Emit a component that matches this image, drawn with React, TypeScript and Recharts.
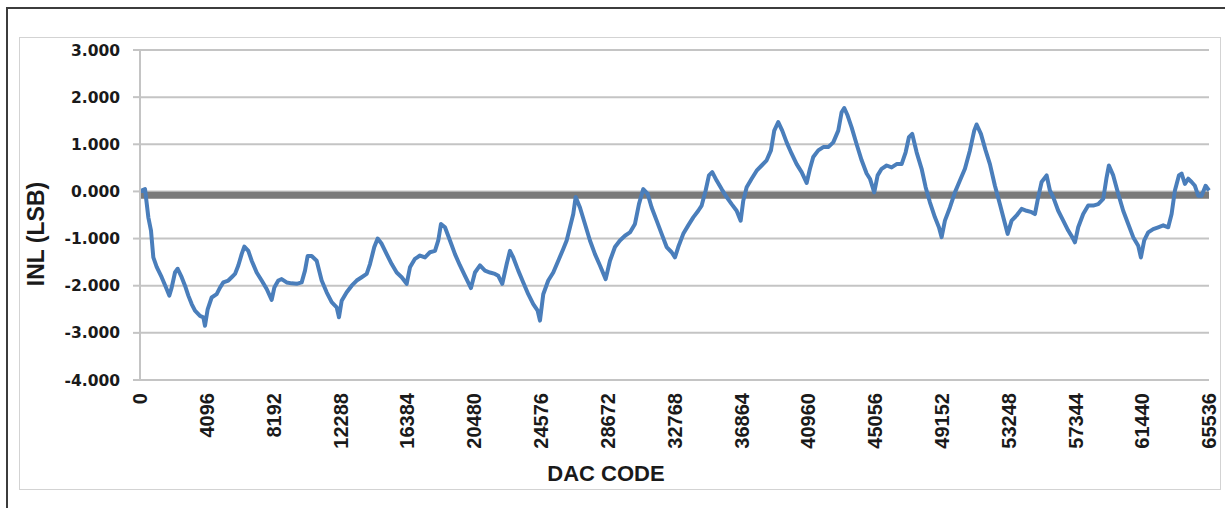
import React from "react";
import { LineChart, Line, XAxis, YAxis, CartesianGrid, ReferenceLine } from "recharts";

// DAC code positions
const codes = [
  0, 307, 511, 674, 817, 1021, 1328, 1634, 1796, 1941, 2146, 2308, 2554, 2759, 2963, 3168, 3372, 3678, 3883, 3985,
  4148, 4393, 4700, 4904, 5108, 5414, 5619, 5824, 6027, 6232, 6396, 6640, 6846, 7153, 7459, 7766, 8072, 8235, 8480, 8684,
  8990, 9298, 9604, 9911, 10115, 10278, 10523, 10830, 11137, 11444, 11751, 12058, 12199, 12364, 12671, 12978, 13284, 13591, 13897, 14099,
  14363, 14571, 14816, 15123, 15430, 15736, 16043, 16349, 16551, 16858, 17164, 17471, 17777, 18084, 18286, 18451, 18697, 19003, 19310, 19616,
  19923, 20290, 20536, 20842, 21149, 21455, 21762, 21964, 22210, 22480, 22681, 22883, 23190, 23496, 23803, 24109, 24379, 24520, 24722, 25029,
  25335, 25642, 25948, 26157, 26359, 26562, 26709, 26972, 27279, 27585, 27892, 28198, 28548, 28811, 29118, 29424, 29731, 30037, 30344, 30589,
  30852, 31122, 31367, 31674, 31980, 32287, 32594, 32796, 32998, 33305, 33611, 33918, 34224, 34432, 34677, 34880, 35082, 35352, 35658, 35965,
  36272, 36578, 36823, 36983, 37191, 37497, 37804, 38110, 38417, 38680, 38883, 39128, 39373, 39643, 39949, 40256, 40562, 40869, 41071, 41274,
  41581, 41888, 42194, 42501, 42807, 43014, 43174, 43382, 43627, 43934, 44240, 44547, 44749, 45014, 45221, 45466, 45773, 46079, 46386, 46692,
  46938, 47140, 47342, 47612, 47918, 48164, 48427, 48734, 48979, 49144, 49347, 49653, 49960, 50266, 50573, 50879, 51143, 51290, 51553, 51841,
  52105, 52412, 52718, 52982, 53190, 53435, 53742, 54048, 54355, 54661, 54864, 55066, 55274, 55581, 55783, 55985, 56292, 56599, 56905, 57151,
  57316, 57518, 57824, 58131, 58438, 58744, 59051, 59259, 59400, 59664, 59970, 60276, 60583, 60889, 61196, 61361, 61564, 61809, 62116, 62422,
  62729, 63035, 63243, 63446, 63691, 63856, 64059, 64261, 64469, 64672, 64874, 65082, 65327, 65536,
];

// INL in LSB at each code above
const inl = [
  0.0, 0.05, -0.55, -0.83, -1.4, -1.6, -1.82, -2.07, -2.21, -2.04, -1.72, -1.64, -1.82, -2.0, -2.21, -2.39, -2.53, -2.64, -2.67, -2.85,
  -2.5, -2.25, -2.18, -2.04, -1.93, -1.89, -1.82, -1.75, -1.57, -1.33, -1.17, -1.26, -1.47, -1.72, -1.89, -2.07, -2.3, -2.04, -1.89, -1.86,
  -1.93, -1.95, -1.96, -1.93, -1.68, -1.37, -1.37, -1.47, -1.89, -2.14, -2.35, -2.46, -2.67, -2.32, -2.14, -2.0, -1.89, -1.82, -1.75, -1.54,
  -1.18, -1.0, -1.11, -1.33, -1.54, -1.72, -1.82, -1.96, -1.61, -1.43, -1.36, -1.4, -1.29, -1.26, -1.04, -0.69, -0.76, -1.04, -1.33, -1.57,
  -1.79, -2.05, -1.72, -1.57, -1.68, -1.72, -1.75, -1.79, -1.96, -1.54, -1.26, -1.4, -1.68, -1.93, -2.18, -2.39, -2.53, -2.74, -2.18, -1.89,
  -1.72, -1.47, -1.22, -1.04, -0.76, -0.48, -0.12, -0.34, -0.69, -1.04, -1.33, -1.57, -1.86, -1.47, -1.18, -1.04, -0.94, -0.87, -0.69, -0.27,
  0.05, -0.05, -0.34, -0.62, -0.9, -1.18, -1.29, -1.4, -1.18, -0.9, -0.72, -0.55, -0.41, -0.3, 0.02, 0.34, 0.41, 0.23, 0.05, -0.12,
  -0.27, -0.41, -0.62, -0.2, 0.09, 0.27, 0.44, 0.55, 0.66, 0.87, 1.29, 1.47, 1.29, 1.04, 0.8, 0.58, 0.41, 0.18, 0.48, 0.73,
  0.87, 0.94, 0.94, 1.04, 1.29, 1.68, 1.77, 1.61, 1.36, 1.0, 0.66, 0.38, 0.27, -0.02, 0.34, 0.48, 0.55, 0.51, 0.58, 0.58,
  0.83, 1.15, 1.22, 0.83, 0.48, 0.09, -0.23, -0.55, -0.76, -0.97, -0.62, -0.34, -0.02, 0.23, 0.48, 0.87, 1.29, 1.42, 1.22, 0.87,
  0.58, 0.12, -0.27, -0.62, -0.9, -0.62, -0.51, -0.37, -0.41, -0.44, -0.48, -0.12, 0.2, 0.34, 0.02, -0.12, -0.41, -0.62, -0.83, -0.97,
  -1.08, -0.76, -0.48, -0.3, -0.3, -0.27, -0.16, 0.3, 0.55, 0.34, -0.05, -0.41, -0.69, -0.97, -1.15, -1.4, -1.04, -0.87, -0.8, -0.76,
  -0.72, -0.76, -0.48, 0.02, 0.34, 0.38, 0.16, 0.27, 0.2, 0.12, -0.09, -0.09, 0.12, 0.02,
];

const xTicks = [0, 4096, 8192, 12288, 16384, 20480, 24576, 28672, 32768, 36864, 40960, 45056, 49152, 53248, 57344, 61440, 65536];
const yTicks = [-4, -3, -2, -1, 0, 1, 2, 3];
const baseline = -0.08;

const data = codes.map((c, i) => ({ code: c, inl: inl[i] }));

const XTick = (props: any) => {
  const { x, y, payload } = props;
  return (
    <text
      x={x}
      y={y}
      dy="0.36em"
      textAnchor="end"
      transform={`rotate(-90, ${x}, ${y})`}
      fontFamily="Liberation Sans, Arial, sans-serif"
      fontWeight="bold"
      fontSize={20}
      fill="#1a1a1a"
    >
      {payload.value}
    </text>
  );
};

export default function App() {
  return (
    <div style={{ position: "absolute", left: 0, top: 0, width: 1225, height: 508, background: "#fff", overflow: "hidden" }}>
      <div style={{ position: "absolute", left: 6, top: 7, width: 1240, height: 520, border: "2px solid #3c3c3c" }} />
      <div style={{ position: "absolute", left: 19, top: 37, width: 1200, height: 451, border: "1px solid #d3d3d3" }} />
      <LineChart
        width={1225}
        height={508}
        data={data}
        margin={{ top: 50, right: 16, bottom: 0, left: 0 }}
        style={{ position: "absolute", left: 0, top: 0 }}
      >
        <CartesianGrid vertical={false} stroke="#c4c4c4" strokeWidth={2} />
        <XAxis
          dataKey="code"
          type="number"
          domain={[0, 65536]}
          ticks={xTicks}
          interval={0}
          height={128}
          axisLine={{ stroke: "#c4c4c4", strokeWidth: 2 }}
          tickLine={false}
          tickSize={0}
          tickMargin={13}
          tick={<XTick />}
        />
        <YAxis
          type="number"
          domain={[-4, 3]}
          ticks={yTicks}
          width={140}
          axisLine={{ stroke: "#c4c4c4", strokeWidth: 2 }}
          tickLine={{ stroke: "#c4c4c4", strokeWidth: 2 }}
          tickSize={7}
          tickMargin={13}
          tickFormatter={(v: number) => v.toFixed(3)}
          tick={{ fontFamily: "DejaVu Sans, Verdana, sans-serif", fontWeight: "bold", fontSize: 15.5, fill: "#1a1a1a" }}
        />
        <ReferenceLine y={baseline} stroke="#7a7a7a" strokeWidth={7} ifOverflow="extendDomain" />
        <Line
          type="linear"
          dataKey="inl"
          stroke="#4a7ebb"
          strokeWidth={4}
          strokeLinejoin="round"
          dot={false}
          isAnimationActive={false}
        />
      </LineChart>
      <div
        style={{
          position: "absolute",
          left: 506,
          top: 462,
          width: 200,
          textAlign: "center",
          fontFamily: "Liberation Sans, Arial, sans-serif",
          fontWeight: "bold",
          fontSize: 22,
          lineHeight: "24px",
          color: "#1a1a1a",
        }}
      >
        DAC CODE
      </div>
      <div
        style={{
          position: "absolute",
          left: 36 - 100,
          top: 234 - 12,
          width: 200,
          textAlign: "center",
          fontFamily: "Liberation Sans, Arial, sans-serif",
          fontWeight: "bold",
          fontSize: 23,
          lineHeight: "24px",
          color: "#1a1a1a",
          transform: "rotate(-90deg)",
        }}
      >
        INL (LSB)
      </div>
    </div>
  );
}
